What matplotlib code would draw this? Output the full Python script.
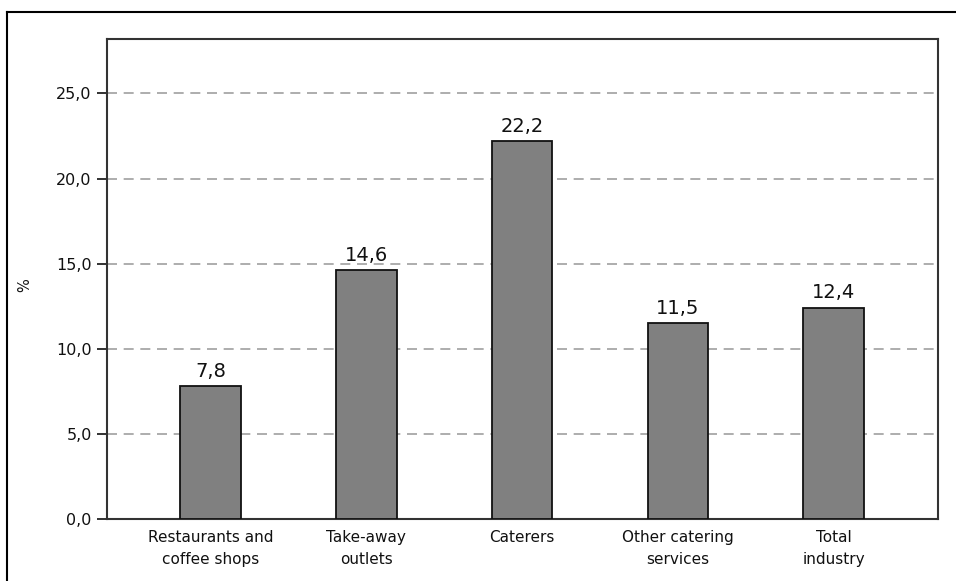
import matplotlib
matplotlib.use('Agg')
import matplotlib.pyplot as plt
from matplotlib.lines import Line2D

categories = ["Restaurants and\ncoffee shops", "Take-away\noutlets", "Caterers",
              "Other catering\nservices", "Total\nindustry"]
values = [7.8, 14.6, 22.2, 11.5, 12.4]
yticks = [0, 5, 10, 15, 20, 25]

plt.rcParams['font.family'] = 'DejaVu Sans'

fig = plt.figure(figsize=(9.56, 5.81), dpi=100)
ax = fig.add_axes([0.1119, 0.1067, 0.8693, 0.8262])

x = list(range(len(categories)))
ax.bar(x, values, width=0.39, color='#808080', edgecolor='#111111', linewidth=1.3, zorder=3)

for xi, v in zip(x, values):
    ax.annotate(f"{v:.1f}".replace('.', ','), (xi, v), xytext=(0, 4), textcoords='offset points',
                ha='center', va='bottom', fontsize=14, color='#111111')

ax.set_xlim(-0.665, 4.67)
ax.set_ylim(0, 28.2)
ax.set_yticks(yticks)
ax.set_yticklabels([f"{t:.1f}".replace('.', ',') for t in yticks], fontsize=11.5, color='#111111')
ax.set_xticks(x)
ax.set_xticklabels(categories, fontsize=11, color='#111111', linespacing=1.55)
ax.tick_params(axis='x', length=0, pad=8)
ax.tick_params(axis='y', length=7, width=1.3, color='#222222', pad=4)

ax.yaxis.grid(True, linestyle=(0, (6, 4)), color='#a0a0a0', linewidth=1.2, zorder=0)
ax.set_axisbelow(True)
for s in ax.spines.values():
    s.set_linewidth(1.5)
    s.set_color('#333333')

ax.set_ylabel('%', fontsize=10.5, color='#111111')
ax.yaxis.set_label_coords(-0.09, 0.4875)

# outer frame (left and top edges visible)
fig.add_artist(Line2D([7 / 956, 7 / 956], [0, 1 - 12 / 581], color='black', linewidth=1.5,
                      transform=fig.transFigure))
fig.add_artist(Line2D([7 / 956, 1], [1 - 12 / 581, 1 - 12 / 581], color='black', linewidth=1.5,
                      transform=fig.transFigure))

fig.savefig('out.png', dpi=100)
